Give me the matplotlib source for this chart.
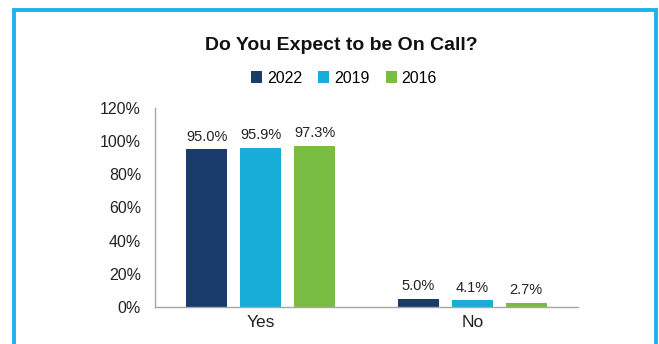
import numpy as np
import matplotlib
matplotlib.use('Agg')
import matplotlib.pyplot as plt
from matplotlib.patches import Rectangle

# survey answers, share of respondents per year
categories = ['Yes', 'No']
years = ['2022', '2019', '2016']
values_2022 = [95.0, 5.0]
values_2019 = [95.9, 4.1]
values_2016 = [97.3, 2.7]
y_ticks = [0, 20, 40, 60, 80, 100, 120]

colors = ['#1A3C6C', '#18ACD8', '#79BE43']
plt.rcParams['font.family'] = ['Liberation Sans', 'DejaVu Sans']

fig = plt.figure(figsize=(6.59, 3.44), dpi=100)
ax = fig.add_axes([0.2352, 0.1076, 0.6419, 0.5785])

x = np.arange(len(categories))
width = 0.194
step = 0.255
series = [values_2022, values_2019, values_2016]
for j, (year, vals) in enumerate(zip(years, series)):
    pos = x + (j - 1) * step
    bars = ax.bar(pos, vals, width, color=colors[j], label=year)
    for b, v in zip(bars, vals):
        ax.annotate(f'{v:.1f}%', (b.get_x() + b.get_width() / 2, v),
                    xytext=(0, 4), textcoords='offset points',
                    ha='center', va='bottom', fontsize=10.5, color='#222222')

ax.set_xlim(-0.5, 1.5)
ax.set_ylim(0, 120)
ax.set_yticks(y_ticks)
ax.set_yticklabels([f'{t}%' for t in y_ticks])
ax.set_xticks(x)
ax.set_xticklabels(categories)
ax.tick_params(axis='both', length=0, colors='#222222')
ax.tick_params(axis='y', pad=10, labelsize=11.5)
ax.tick_params(axis='x', pad=6, labelsize=12.5)
for s in ['top', 'right']:
    ax.spines[s].set_visible(False)
for s in ['left', 'bottom']:
    ax.spines[s].set_color('#A6A6A6')
    ax.spines[s].set_linewidth(1)

fig.text(0.518, 0.868, 'Do You Expect to be On Call?', ha='center', va='center',
         fontsize=14, fontweight='bold', color='#111111')
fig.legend(loc='center', bbox_to_anchor=(0.522, 0.773), ncol=3, frameon=False,
           fontsize=11.5, handlelength=0.7, handleheight=0.7, handletextpad=0.3,
           columnspacing=1.0)

# light blue frame around the chart
fig.patches.append(Rectangle((14 / 659, -0.1), 642 / 659, 1 - 10 / 344 + 0.1,
                             transform=fig.transFigure, fill=False,
                             edgecolor='#1EB1EE', linewidth=2.8))

fig.savefig('out.png', dpi=100)
